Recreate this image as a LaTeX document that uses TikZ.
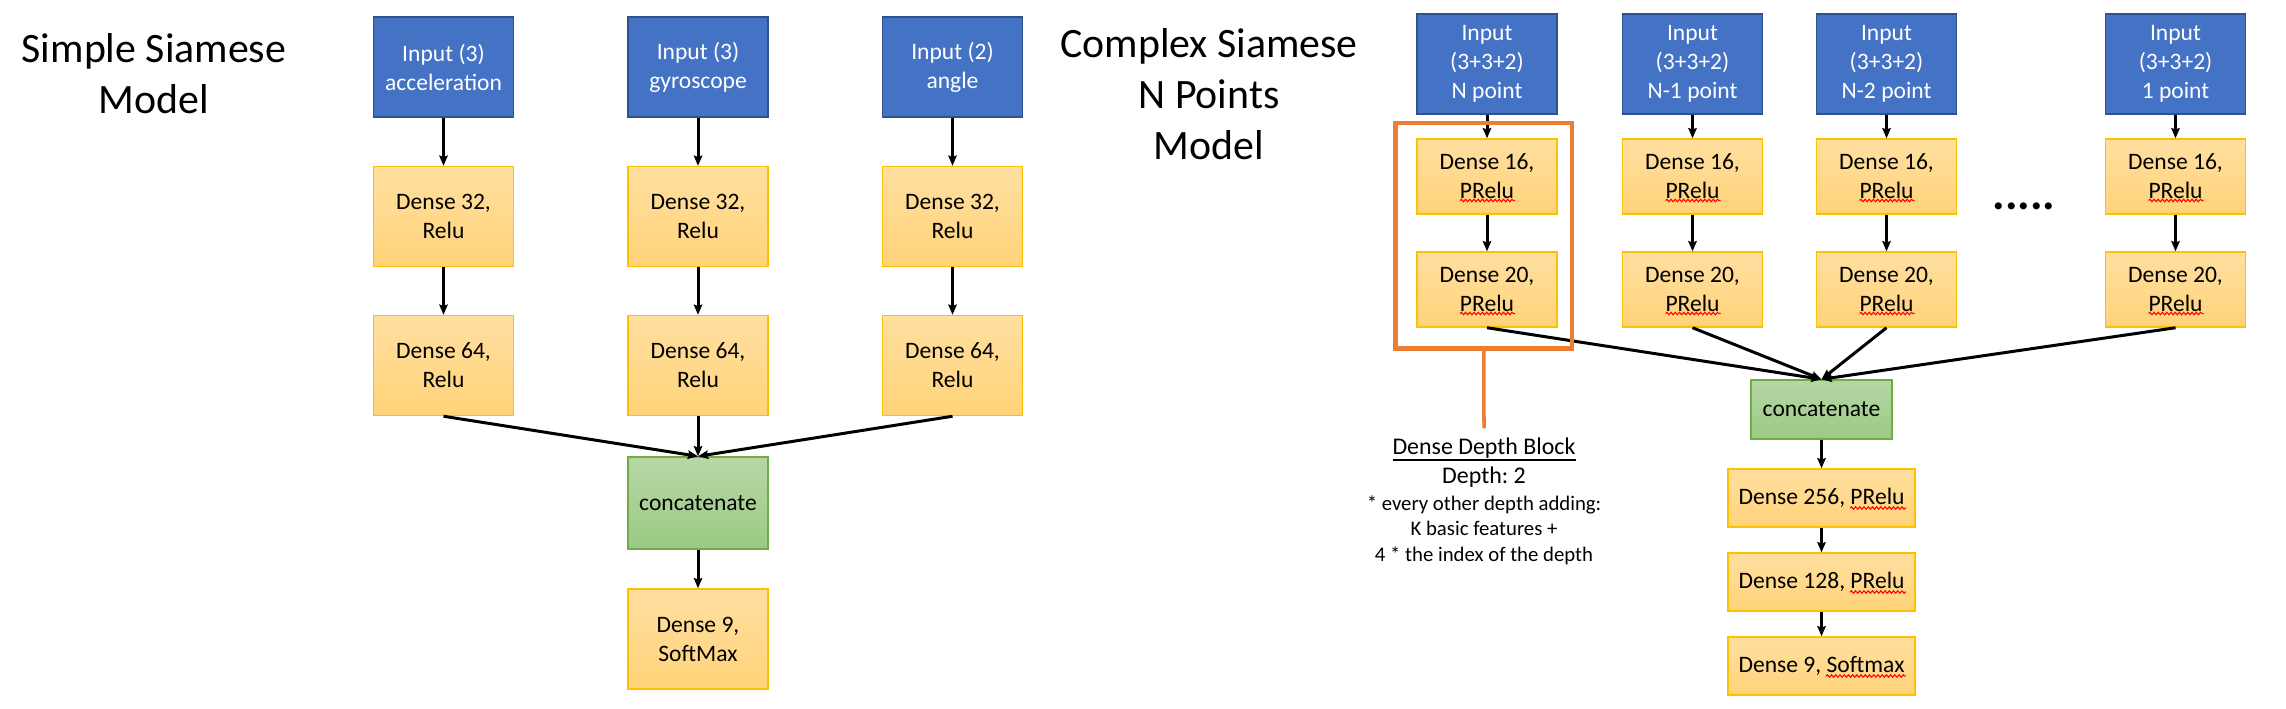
\documentclass[tikz,border=0pt]{standalone}
\usepackage{fontspec}
\setmainfont{Carlito}
\frenchspacing
\usetikzlibrary{arrows.meta,decorations.pathmorphing}

\definecolor{inputblue}{HTML}{4472C4}
\definecolor{inputedge}{HTML}{2F528F}
\definecolor{densetop}{HTML}{FFDFA0}
\definecolor{densebot}{HTML}{FFD379}
\definecolor{denseedge}{HTML}{FFC000}
\definecolor{cattop}{HTML}{B6D7A5}
\definecolor{catbot}{HTML}{9BCA84}
\definecolor{catedge}{HTML}{70AD47}
\definecolor{blockorange}{HTML}{ED7D31}

\newcommand\boxfont{\fontsize{6.7}{8.25}\selectfont}
\newcommand\titlefont{\fontsize{11.9}{14.5}\selectfont}
\newcommand\blockul[1]{\setbox0\hbox{#1}\copy0\llap{\rule[-1.9pt]{\wd0}{0.55pt}}}

\begin{document}
\begin{tikzpicture}[x=0.01cm, y=-0.01cm,
  inputbox/.style={draw=inputedge, fill=inputblue, text=white, line width=0.4pt, minimum width=1.4cm, minimum height=1cm, inner sep=0pt, align=center, font=\boxfont},
  densebox/.style={draw=denseedge, top color=densetop, bottom color=densebot, line width=0.4pt, minimum width=1.4cm, minimum height=1cm, inner sep=0pt, align=center, font=\boxfont},
  catbox/.style={densebox, draw=catedge, top color=cattop, bottom color=catbot},
  flow/.style={-{Stealth[length=2.9pt, width=2.4pt, inset=0.4pt]}, line width=0.85pt},
  spellwave/.style={draw=red, line width=0.3pt, decorate, decoration={snake, amplitude=0.35pt, segment length=1.2pt}},
  titletext/.style={align=center, font=\titlefont}
]
\useasboundingbox (0,0) rectangle (2286,708);

\begin{scope}[shift={(698, 0)}] % SIMPLE MODEL
\node[titletext] (simpletitle) at (-544, 74) {Simple Siamese\\Model};

\node[inputbox] (inacc) at (-254.5, 67) {Input (3)\\acceleration};
\node[inputbox] (ingyr) at (0, 67) {Input (3)\\gyroscope};
\node[inputbox] (inang) at (254.5, 67) {Input (2)\\angle};

\node[densebox] (acc32) at (-254.5, 216.5) {Dense 32,\\Relu};
\node[densebox] (gyr32) at (0, 216.5) {Dense 32,\\Relu};
\node[densebox] (ang32) at (254.5, 216.5) {Dense 32,\\Relu};

\node[densebox] (acc64) at (-254.5, 365.5) {Dense 64,\\Relu};
\node[densebox] (gyr64) at (0, 365.5) {Dense 64,\\Relu};
\node[densebox] (ang64) at (254.5, 365.5) {Dense 64,\\Relu};

\node[catbox, minimum height=0.92cm] (catsimple) at (0, 503) {concatenate};
\node[densebox] (outsimple) at (0, 639) {Dense 9,\\SoftMax};

\draw[flow] (inacc) -- (acc32);
\draw[flow] (ingyr) -- (gyr32);
\draw[flow] (inang) -- (ang32);
\draw[flow] (acc32) -- (acc64);
\draw[flow] (gyr32) -- (gyr64);
\draw[flow] (ang32) -- (ang64);
\draw[flow] (acc64.south) -- (catsimple.north);
\draw[flow] (gyr64.south) -- (catsimple.north);
\draw[flow] (ang64.south) -- (catsimple.north);
\draw[flow] (catsimple) -- (outsimple);
\end{scope}

\begin{scope}[shift={(1821.5, 0)}] % COMPLEX MODEL
\node[titletext] (complextitle) at (-612.5, 94) {Complex Siamese\\N Points\\Model};

\node[inputbox] (inN) at (-334.5, 64) {Input\\(3+3+2)\\N point};
\node[inputbox] (inNa) at (-129, 64) {Input\\(3+3+2)\\N-1 point};
\node[inputbox] (inNb) at (65, 64) {Input\\(3+3+2)\\N-2 point};
\node[inputbox] (inone) at (354, 64) {Input\\(3+3+2)\\1 point};

\node[densebox, minimum height=0.75cm] (dN16) at (-334.5, 176.5) {Dense 16,\\PRelu};
\node[densebox, minimum height=0.75cm] (dNa16) at (-129, 176.5) {Dense 16,\\PRelu};
\node[densebox, minimum height=0.75cm] (dNb16) at (65, 176.5) {Dense 16,\\PRelu};
\node[densebox, minimum height=0.75cm] (done16) at (354, 176.5) {Dense 16,\\PRelu};

\node[densebox, minimum height=0.75cm] (dN20) at (-334.5, 289.5) {Dense 20,\\PRelu};
\node[densebox, minimum height=0.75cm] (dNa20) at (-129, 289.5) {Dense 20,\\PRelu};
\node[densebox, minimum height=0.75cm] (dNb20) at (65, 289.5) {Dense 20,\\PRelu};
\node[densebox, minimum height=0.75cm] (done20) at (354, 289.5) {Dense 20,\\PRelu};

\node[font=\fontsize{13.4}{16}\selectfont\bfseries, inner sep=0pt] (dots) at (202.5, 206) {.....};

\node[catbox, minimum width=1.41cm, minimum height=0.59cm] (catcomplex) at (0, 409.5) {concatenate};
\node[densebox, minimum width=1.87cm, minimum height=0.58cm] (d256) at (0, 498) {Dense 256, PRelu};
\node[densebox, minimum width=1.87cm, minimum height=0.58cm] (d128) at (0, 582) {Dense 128, PRelu};
\node[densebox, minimum width=1.87cm, minimum height=0.58cm] (outcomplex) at (0, 666) {Dense 9, Softmax};

\draw[flow] (inN) -- (dN16);
\draw[flow] (inNa) -- (dNa16);
\draw[flow] (inNb) -- (dNb16);
\draw[flow] (inone) -- (done16);
\draw[flow] (dN16) -- (dN20);
\draw[flow] (dNa16) -- (dNa20);
\draw[flow] (dNb16) -- (dNb20);
\draw[flow] (done16) -- (done20);
\draw[flow] (dN20.south) -- (catcomplex.north);
\draw[flow] (dNa20.south) -- (catcomplex.north);
\draw[flow] (dNb20.south) -- (catcomplex.north);
\draw[flow] (done20.south) -- (catcomplex.north);
\draw[flow] (catcomplex) -- (d256);
\draw[flow] (d256) -- (d128);
\draw[flow] (d128) -- (outcomplex);

% spelling marks
\foreach \n in {dN16, dNa16, dNb16, done16, dN20, dNa20, dNb20, done20}
  \draw[spellwave, shift={(\n.center)}] (-27, 24) -- (28, 24);
\draw[spellwave, shift={(d256.center)}] (28.5, 10) -- (84.5, 10);
\draw[spellwave, shift={(d128.center)}] (28.5, 10) -- (84.5, 10);
\draw[spellwave, shift={(outcomplex.center)}] (4.5, 10) -- (84, 10);

% DENSE DEPTH BLOCK
\node[draw=blockorange, line width=1.25pt, minimum width=1.765cm, minimum height=2.255cm, inner sep=0pt] (ddb) at (-337.75, 235.75) {};
\node[align=center, inner sep=2.5pt, font=\fontsize{6.8}{8.25}\selectfont] (ddbhead) at (-337.5, 462.5) {\blockul{Dense Depth Block}\\Depth: 2};
\node[align=center, font=\fontsize{5.9}{7.25}\selectfont] (ddbnote) at (-337.5, 530) {* every other depth adding:\\K basic features +\\4 * the index of the depth};
\draw[blockorange, line width=1pt] (ddb.south) -- (ddbhead.north);
\end{scope}
\end{tikzpicture}
\end{document}
